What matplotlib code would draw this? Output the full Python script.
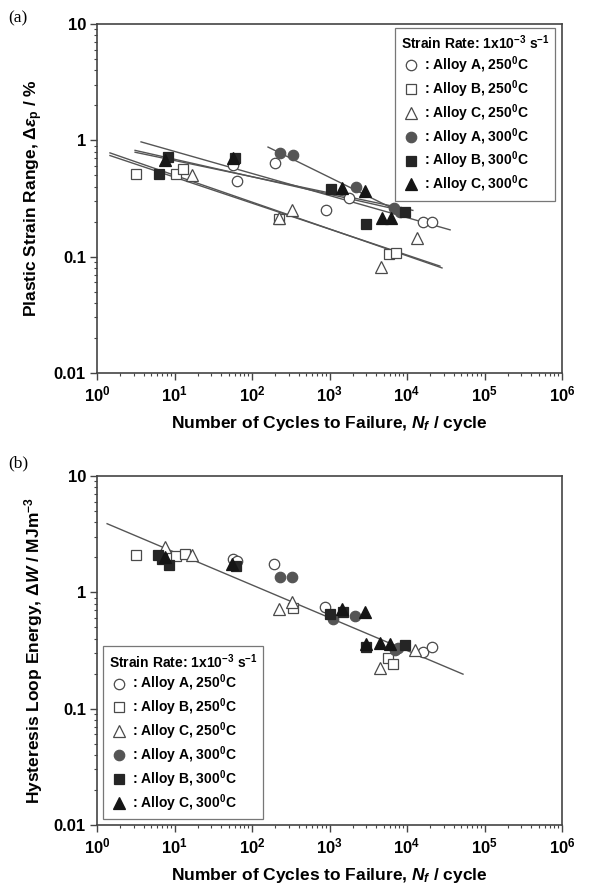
import numpy as np
import matplotlib
matplotlib.use("Agg")
import matplotlib.pyplot as plt
from matplotlib.lines import Line2D
from matplotlib.ticker import FixedLocator, FuncFormatter, LogLocator, NullFormatter

plt.rcParams['font.family'] = ['Liberation Sans', 'DejaVu Sans']
plt.rcParams['font.weight'] = 'bold'
plt.rcParams['mathtext.fontset'] = 'custom'
plt.rcParams['mathtext.rm'] = 'Liberation Sans:bold'
plt.rcParams['mathtext.bf'] = 'Liberation Sans:bold'
plt.rcParams['mathtext.it'] = 'Liberation Sans:italic:bold'
plt.rcParams['mathtext.sf'] = 'Liberation Sans:bold'

# ---- (a) plastic strain range vs cycles to failure ----
a_A250_N = [57, 64, 198, 900, 1790, 16100, 21000]
a_A250_y = [0.61, 0.45, 0.64, 0.25, 0.32, 0.20, 0.20]
a_B250_N = [3.2, 10.5, 12.9, 223, 5900, 7200]
a_B250_y = [0.51, 0.51, 0.57, 0.21, 0.105, 0.107]
a_C250_N = [16.8, 223, 328, 4600, 13500]
a_C250_y = [0.50, 0.215, 0.25, 0.081, 0.145]
a_A300_N = [230, 338, 2200, 6800, 8100]
a_A300_y = [0.78, 0.75, 0.40, 0.26, 0.24]
a_B300_N = [6.3, 8.2, 60, 1045, 2960, 9400]
a_B300_y = [0.51, 0.72, 0.70, 0.38, 0.19, 0.24]
a_C300_N = [7.5, 57, 1450, 2870, 4760, 6200]
a_C300_y = [0.68, 0.70, 0.39, 0.37, 0.215, 0.215]

# fitted lines: (N start, N end), (value start, value end)
a_fit_N = [(3.7, 36000), (3.1, 11900), (3.1, 11000), (1.47, 28300), (1.47, 26600), (161, 9000)]
a_fit_y = [(0.97, 0.17), (0.79, 0.25), (0.82, 0.24), (0.78, 0.080), (0.74, 0.083), (0.875, 0.234)]

# ---- (b) hysteresis loop energy vs cycles to failure ----
b_A250_N = [57, 64, 194, 875, 16100, 21000]
b_A250_y = [1.95, 1.85, 1.76, 0.75, 0.31, 0.34]
b_B250_N = [3.15, 10.6, 13.6, 335, 5650, 6600]
b_B250_y = [2.08, 2.05, 2.12, 0.73, 0.27, 0.243]
b_C250_N = [7.5, 16.6, 225, 325, 4500, 12700]
b_C250_y = [2.45, 2.08, 0.72, 0.83, 0.225, 0.32]
b_A300_N = [230, 325, 1110, 2130, 6900, 7600]
b_A300_y = [1.36, 1.36, 0.59, 0.63, 0.32, 0.33]
b_B300_N = [6.2, 6.8, 8.5, 63, 1020, 1490, 3000, 9400]
b_B300_y = [2.08, 1.95, 1.71, 1.70, 0.65, 0.68, 0.34, 0.35]
b_C300_N = [7.5, 55, 1430, 2870, 3000, 4500, 6000]
b_C300_y = [2.00, 1.76, 0.72, 0.68, 0.36, 0.37, 0.36]

b_fit_N = [(1.35, 52800)]
b_fit_y = [(3.89, 0.198)]

labels = [': Alloy A, 250$^0$C', ': Alloy B, 250$^0$C', ': Alloy C, 250$^0$C',
          ': Alloy A, 300$^0$C', ': Alloy B, 300$^0$C', ': Alloy C, 300$^0$C']
legend_title = 'Strain Rate: 1x10$^{-3}$ s$^{-1}$'

edge = '#4a4a4a'
styles = [
    dict(marker='o', ms=7.5, mfc='white', mec=edge, mew=0.9),
    dict(marker='s', ms=6.5, mfc='white', mec=edge, mew=0.9),
    dict(marker='^', ms=8, mfc='white', mec=edge, mew=0.9),
    dict(marker='o', ms=7.5, mfc='#555555', mec='#555555', mew=0.9),
    dict(marker='s', ms=6.5, mfc='#252525', mec='#252525', mew=0.9),
    dict(marker='^', ms=8, mfc='#151515', mec='#151515', mew=0.9),
]


def style_axes(ax):
    ax.set_xscale('log')
    ax.set_yscale('log')
    ax.set_xlim(1, 1e6)
    ax.set_ylim(0.01, 10)
    ax.xaxis.set_major_locator(FixedLocator([1, 10, 100, 1e3, 1e4, 1e5, 1e6]))
    ax.xaxis.set_major_formatter(FuncFormatter(lambda v, p: r'$\mathrm{10^{%d}}$' % round(np.log10(v))))
    ax.yaxis.set_major_locator(FixedLocator([0.01, 0.1, 1, 10]))
    ax.yaxis.set_major_formatter(FuncFormatter(lambda v, p: {0.01: '0.01', 0.1: '0.1', 1: '1', 10: '10'}[round(v, 2)]))
    for axis in (ax.xaxis, ax.yaxis):
        axis.set_minor_locator(LogLocator(base=10, subs=np.arange(2, 10), numticks=20))
        axis.set_minor_formatter(NullFormatter())
    ax.tick_params(which='major', direction='out', length=5, width=1.0, color='#444444',
                   labelsize=12, pad=3)
    ax.tick_params(which='minor', direction='out', length=2.5, width=0.8, color='#444444')
    for s in ax.spines.values():
        s.set_color('#444444')
        s.set_linewidth(1.2)
    ax.set_xlabel(r'Number of Cycles to Failure, $N_f$ / cycle', fontsize=12.5,
                  fontweight='bold', labelpad=7)


def draw(ax, sets, fits_N, fits_y):
    for (N, y), st in zip(sets, styles):
        ax.plot(N, y, ls='none', zorder=3, **st)
    for n, v in zip(fits_N, fits_y):
        ax.plot(n, v, color='#555555', lw=1.0, zorder=2)


def add_legend(ax, loc, anchor):
    handles = [Line2D([], [], ls='none', **st) for st in styles]
    leg = ax.legend(handles, labels, title=legend_title, loc=loc, bbox_to_anchor=anchor,
                    prop=dict(size=10, weight='bold'), title_fontproperties=dict(size=10, weight='bold'),
                    frameon=True, fancybox=False, borderpad=0.4, labelspacing=0.16,
                    handletextpad=0.15, handlelength=1.5, borderaxespad=0)
    leg._legend_box.align = 'left'
    fr = leg.get_frame()
    fr.set_edgecolor('#555555')
    fr.set_linewidth(0.9)
    leg.set_zorder(5)


fig = plt.figure(figsize=(5.94, 8.94), dpi=100)

ax1 = fig.add_axes([97 / 594, 1 - 373 / 894, 465 / 594, 349 / 894])
style_axes(ax1)
draw(ax1, [(a_A250_N, a_A250_y), (a_B250_N, a_B250_y), (a_C250_N, a_C250_y),
           (a_A300_N, a_A300_y), (a_B300_N, a_B300_y), (a_C300_N, a_C300_y)], a_fit_N, a_fit_y)
ax1.set_ylabel(r'Plastic Strain Range, $\Delta\varepsilon_\mathrm{p}$ / %', fontsize=12.5,
               fontweight='bold', labelpad=6)
add_legend(ax1, 'upper right', (0.985, 0.988))

ax2 = fig.add_axes([97 / 594, 1 - 825 / 894, 465 / 594, 349 / 894])
style_axes(ax2)
draw(ax2, [(b_A250_N, b_A250_y), (b_B250_N, b_B250_y), (b_C250_N, b_C250_y),
           (b_A300_N, b_A300_y), (b_B300_N, b_B300_y), (b_C300_N, b_C300_y)], b_fit_N, b_fit_y)
ax2.set_ylabel(r'Hysteresis Loop Energy, $\Delta W$ / MJm$^{-3}$', fontsize=12.5,
               fontweight='bold', labelpad=6)
add_legend(ax2, 'lower left', (0.013, 0.017))

fig.text(8 / 594, 1 - 18 / 894, '(a)', family='Liberation Serif', fontweight='normal',
         fontsize=12.5, va='center', ha='left')
fig.text(8 / 594, 1 - 463 / 894, '(b)', family='Liberation Serif', fontweight='normal',
         fontsize=12.5, va='center', ha='left')

fig.savefig('out.png', dpi=100)
